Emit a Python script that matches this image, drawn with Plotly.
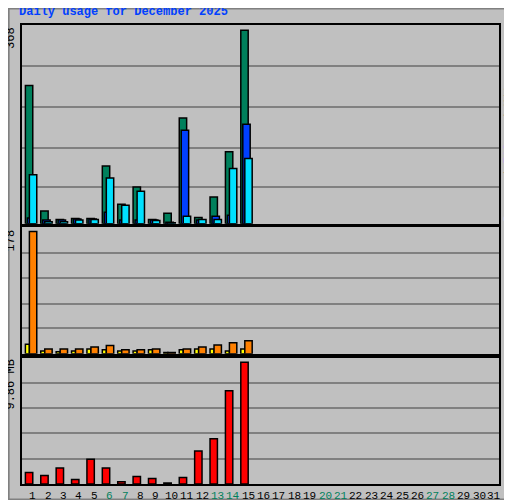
import plotly.graph_objects as go
from plotly.subplots import make_subplots

days = list(range(1, 32))
hits = [263, 24, 8, 10, 10, 110, 37, 70, 8, 20, 201, 12, 51, 137, 368]
files = [11, 7, 7, 9, 9, 22, 7, 7, 7, 3, 178, 7, 14, 16, 189]
pages = [93, 4, 4, 7, 8, 87, 35, 62, 6, 2, 14, 8, 8, 105, 124]
visits = [14, 4, 3, 4, 7, 6, 4, 4, 6, 2, 6, 7, 7, 4, 7]
sites = [178, 7, 7, 7, 10, 12, 6, 6, 7, 2, 7, 10, 13, 16, 19]
volume_mb = [0.94, 0.69, 1.29, 0.36, 2.01, 1.29, 0.19, 0.61, 0.44, 0.08, 0.52, 2.67, 3.66, 7.55, 9.86]
weekend = [6, 7, 13, 14, 20, 21, 27, 28]

GREEN, BLUE, CYAN = "#00805c", "#0040ff", "#00e0ff"
YELLOW, ORANGE, RED = "#ffff00", "#ff8000", "#ff0000"
BG = "#c0c0c0"
line = dict(color="black", width=1.5)

fig = make_subplots(rows=3, cols=1, shared_xaxes=True, vertical_spacing=0.008,
                    row_heights=[0.44, 0.28, 0.28])
d = days[:len(hits)]

def bar(y, color, offset, width, row):
    fig.add_trace(go.Bar(x=d, y=y, marker=dict(color=color, line=line),
                         offset=offset, width=width, showlegend=False), row=row, col=1)

bar(hits, GREEN, -0.28, 0.48, 1)
bar(files, BLUE, -0.15, 0.48, 1)
bar(pages, CYAN, -0.02, 0.48, 1)
bar(visits, YELLOW, -0.28, 0.26, 2)
bar(sites, ORANGE, -0.02, 0.48, 2)
bar(volume_mb, RED, -0.28, 0.48, 3)

# page body has an 8px margin, so the figure is a bit smaller than the window
fig.update_layout(barmode="overlay", width=504, height=492,
                  paper_bgcolor=BG, plot_bgcolor=BG,
                  margin=dict(l=14, r=13, t=17, b=16),
                  font=dict(family="Liberation Mono", size=11))
fig.update_xaxes(range=[0.5, 31.5], showticklabels=False, showgrid=False,
                 zeroline=False, showline=True, linecolor="black", mirror=True, linewidth=1.5)
for row, top, grid in [(1, 378, [69, 145, 222, 300]), (2, 184, [37, 73, 110, 147]),
                       (3, 10.25, [2.05, 4.1, 6.15, 8.2])]:
    fig.update_yaxes(range=[0, top], tickvals=grid, showticklabels=False, ticks="",
                     gridcolor="#808080", gridwidth=1.5, zeroline=False,
                     showline=True, linecolor="black", mirror=True, linewidth=1.5,
                     row=row, col=1)

# title
fig.add_annotation(text="<b>Daily usage for December 2025</b>", xref="paper", yref="paper",
                   x=-0.01, y=1.0, yshift=4, xanchor="left", yanchor="bottom",
                   showarrow=False, font=dict(color=BLUE, size=12, family="Liberation Mono"))
# max labels
for label, yref in [("368", "y domain"), ("178", "y2 domain"), ("9.86 MB", "y3 domain")]:
    fig.add_annotation(text=label, xref="paper", yref=yref, x=0, xshift=-2, y=1,
                       xanchor="right", yanchor="top", textangle=-90, showarrow=False,
                       font=dict(color="black", size=12))
# day labels
for day in days:
    fig.add_annotation(text=str(day), xref="x3", yref="paper", x=day + 0.2, y=0, yshift=-4,
                       yanchor="top", showarrow=False,
                       font=dict(size=11, color=GREEN if day in weekend else "black"))
# legend labels on the right
def sep():
    return '<span style="color:black"> / </span>'
top_txt = (f'<span style="color:{CYAN}">Pages</span>' + sep() +
           f'<span style="color:{BLUE}">Files</span>' + sep() +
           f'<span style="color:{GREEN}">Hits</span>')
bot_txt = (f'<span style="color:{RED}">Volume</span>' + sep() +
           f'<span style="color:{BLUE}">Vol. In</span>' + sep() +
           f'<span style="color:{GREEN}">Vol. Out</span>' + sep() +
           f'<span style="color:{ORANGE}">Sites</span>' + sep() +
           f'<span style="color:{YELLOW}">Visits</span>')
fig.add_annotation(text=top_txt, xref="paper", yref="y domain", x=1, xshift=2, y=0,
                   xanchor="left", yanchor="bottom", textangle=-90, showarrow=False,
                   font=dict(size=12))
fig.add_annotation(text=bot_txt, xref="paper", yref="y3 domain", x=1, xshift=2, y=0,
                   xanchor="left", yanchor="bottom", textangle=-90, showarrow=False,
                   font=dict(size=12))
# outer frame
fig.add_shape(type="rect", xref="paper", yref="paper", x0=-0.028, x1=1.026, y0=-0.034, y1=1.036,
              line=dict(color="#808080", width=2))

fig.write_html("out.html")
